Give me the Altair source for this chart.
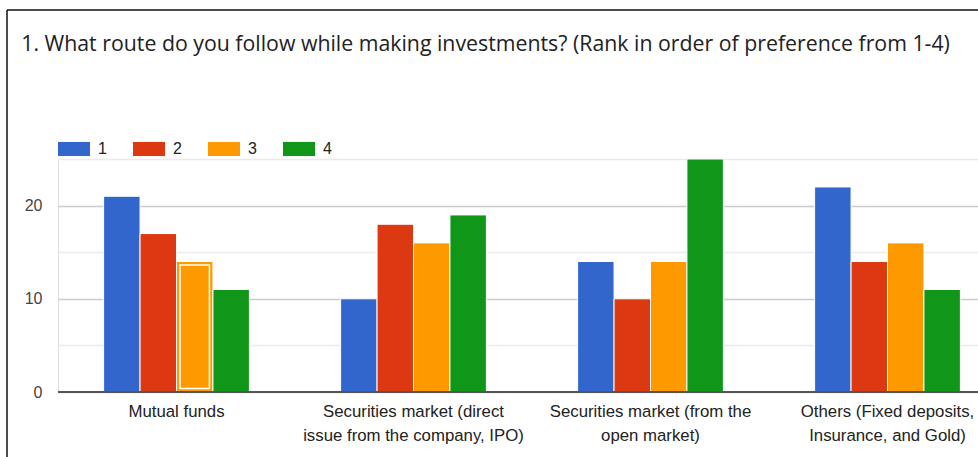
import altair as alt
import pandas as pd

title_text = "1. What route do you follow while making investments? (Rank in order of preference from 1-4)"
categories = [
    "Mutual funds",
    "Securities market (direct issue from the company, IPO)",
    "Securities market (from the open market)",
    "Others (Fixed deposits, Insurance, and Gold)",
]
label_lines = [
    ["Mutual funds"],
    ["Securities market (direct", "issue from the company, IPO)"],
    ["Securities market (from the", "open market)"],
    ["Others (Fixed deposits,", "Insurance, and Gold)"],
]
ranks = ["1", "2", "3", "4"]
rank1 = [21, 10, 14, 22]
rank2 = [17, 18, 10, 14]
rank3 = [14, 16, 14, 16]
rank4 = [11, 19, 25, 11]
colors = ["#3366CC", "#DC3912", "#FF9900", "#109618"]

series = [rank1, rank2, rank3, rank4]
rows = []
for ci, cat in enumerate(categories):
    for ri, r in enumerate(ranks):
        rows.append({"cat": cat, "rank": r, "value": series[ri][ci]})
df = pd.DataFrame(rows)


def js(s):
    return "'" + s.replace("'", "\\'") + "'"


lines_js = "[" + ",".join("[" + ",".join(js(l) for l in ls) + "]" for ls in label_lines) + "]"
cats_js = "[" + ",".join(js(c) for c in categories) + "]"
label_expr = f"{lines_js}[indexof({cats_js}, datum.value)]"

FONT = "Liberation Sans"
TITLE_FONT = "Open Sans"

x_enc = alt.X(
    "cat:N",
    sort=categories,
    scale=alt.Scale(domain=categories, range=[0, 948], paddingInner=0.385, paddingOuter=0.1925),
    axis=alt.Axis(
        title=None,
        labelAngle=0,
        labelExpr=label_expr,
        labelFont=FONT,
        labelFontSize=16.8,
        labelColor="#222222",
        labelLineHeight=24,
        labelPadding=11,
        labelLimit=400,
        ticks=False,
        domain=False,
        grid=False,
    ),
)
y_enc = alt.Y(
    "value:Q",
    scale=alt.Scale(domain=[0, 25], nice=False),
    axis=alt.Axis(
        title=None,
        values=[0, 5, 10, 15, 20, 25],
        labelExpr="datum.value % 10 === 0 ? datum.label : ''",
        labelFont=FONT,
        labelFontSize=16,
        labelColor="#444444",
        labelPadding=16,
        ticks=False,
        domain=False,
        gridColor={"condition": {"test": "datum.value % 10 === 0", "value": "#cccccc"}, "value": "#ebebeb"},
        gridWidth=1.5,
    ),
)
xoff = alt.XOffset("rank:N", sort=ranks, scale=alt.Scale(domain=ranks, paddingInner=0, paddingOuter=0))

base = alt.Chart(df)

bars = base.mark_bar(stroke="white", strokeWidth=1).encode(
    x=x_enc,
    y=y_enc,
    xOffset=xoff,
    color=alt.Color(
        "rank:N",
        scale=alt.Scale(domain=ranks, range=colors),
        legend=alt.Legend(
            title=None,
            orient="none",
            legendX=0,
            legendY=-26,
            direction="horizontal",
            columns=4,
            symbolType="M-1,-0.44H1V0.44H-1Z",
            symbolSize=1024,
            symbolStrokeWidth=0,
            symbolOpacity=1,
            labelFont=FONT,
            labelFontSize=16,
            labelColor="#222222",
            labelOffset=8,
            columnPadding=26,
        ),
    ),
)

hl_x = "scale('x', datum.cat) + scale('xOffset', datum.rank) + 3.5"
hl_x2 = "scale('x', datum.cat) + scale('xOffset', datum.rank) + bandwidth('xOffset') - 3.5"
highlight = base.transform_filter(
    "datum.cat === 'Mutual funds' && datum.rank === '3'"
).mark_rect(
    fillOpacity=0,
    stroke="white",
    strokeWidth=1.5,
    yOffset=3.5,
    y2Offset=-3.5,
).encode(
    x={"value": {"expr": hl_x}},
    x2={"value": {"expr": hl_x2}},
    y=y_enc,
    y2=alt.datum(0),
)

baseline = alt.Chart(pd.DataFrame({"v": [0]})).mark_rule(color="#555555", strokeWidth=2).encode(y="v:Q")

one = pd.DataFrame({"a": [0]})
frame_left = alt.Chart(one).mark_rule(color="#111111", strokeWidth=1.5).encode(
    x=alt.value(-51), y=alt.value(-149), y2=alt.value(310)
)
frame_top = alt.Chart(one).mark_rule(color="#111111", strokeWidth=1.5).encode(
    x=alt.value(-51), x2=alt.value(930), y=alt.value(-149)
)

chart = (
    alt.layer(bars, highlight, baseline, frame_left, frame_top)
    .properties(
        width=920,
        height=233,
        padding={"left": 58, "top": 159, "right": 0, "bottom": 65},
        autosize="none",
        title=alt.TitleParams(
            title_text,
            anchor="start",
            dx=15,
            dy=63,
            offset=0,
            baseline="alphabetic",
            font=TITLE_FONT,
            fontSize=21.3,
            fontWeight="normal",
            color="#222222",
        ),
    )
    .configure_view(stroke=None)
    .configure(background="white")
)

chart.save("out.html", embed_options={"renderer": "svg", "actions": False})
